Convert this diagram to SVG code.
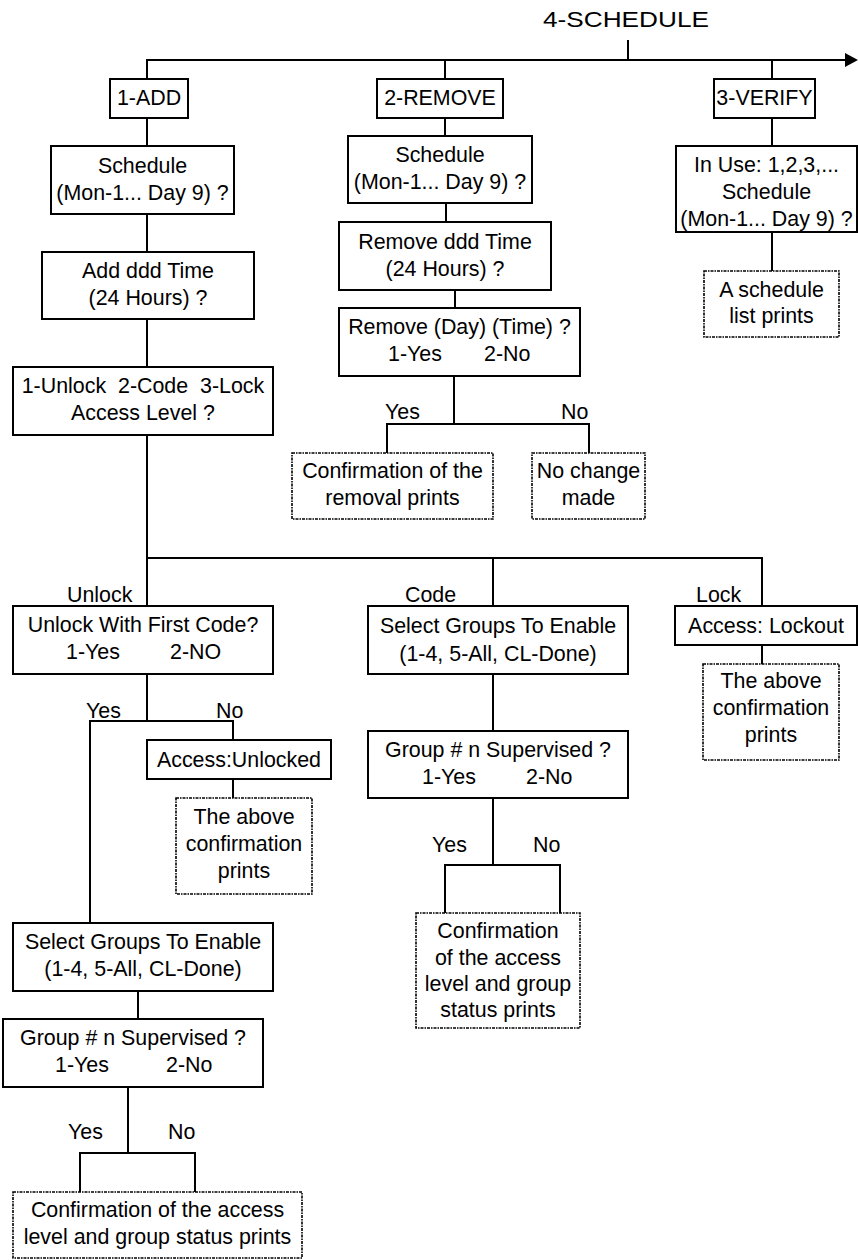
<svg xmlns="http://www.w3.org/2000/svg" width="858" height="1260" viewBox="0 0 858 1260">
<defs>
<style>
.t{font-family:"Liberation Sans",Arial,sans-serif;font-size:21.4px;fill:#000}
.c{text-anchor:middle}
.box{fill:#fff;stroke:#000;stroke-width:2}
.dbox{fill:#fff;stroke:#000;stroke-width:1.6;stroke-dasharray:3 1 1.5 1}
.ln{fill:none;stroke:#000;stroke-width:2}
</style>
<marker id="arr" markerWidth="13" markerHeight="14" refX="0" refY="7" orient="auto" markerUnits="userSpaceOnUse">
<path d="M0,0 L13,7 L0,14 Z" fill="#000"/>
</marker>
</defs>
<rect width="858" height="1260" fill="#fff"/>
<text class="t c" x="626" y="27" textLength="166" lengthAdjust="spacingAndGlyphs">4-SCHEDULE</text>
<g id="connectors">
<path class="ln" d="M147,79 V60 H845" marker-end="url(#arr)"/>
<path class="ln" d="M628,40 V60"/>
<path class="ln" d="M445,60 V79"/>
<path class="ln" d="M772,60 V79"/>
<path class="ln" d="M147,118 V146"/>
<path class="ln" d="M147,214 V252"/>
<path class="ln" d="M147,319 V367"/>
<path class="ln" d="M147,435 V606"/>
<path class="ln" d="M147,558 H762 V606"/>
<path class="ln" d="M493,558 V606"/>
<path class="ln" d="M445,118 V136"/>
<path class="ln" d="M446,203 V222"/>
<path class="ln" d="M455,290 V308"/>
<path class="ln" d="M454,376 V424"/>
<path class="ln" d="M387,453 V424 H589 V453"/>
<path class="ln" d="M772,118 V146"/>
<path class="ln" d="M772,232 V271"/>
<path class="ln" d="M147,674 V721"/>
<path class="ln" d="M90,923 V721 H233 V740"/>
<path class="ln" d="M233,779 V798"/>
<path class="ln" d="M138,991 V1019"/>
<path class="ln" d="M128,1087 V1153"/>
<path class="ln" d="M80,1192 V1153 H195 V1192"/>
<path class="ln" d="M493,674 V731"/>
<path class="ln" d="M493,798 V865"/>
<path class="ln" d="M445,913 V865 H560 V913"/>
<path class="ln" d="M762,645 V664"/>
<text class="t" x="385" y="419">Yes</text>
<text class="t" x="561" y="419">No</text>
<text class="t" x="67" y="602">Unlock</text>
<text class="t" x="405" y="602">Code</text>
<text class="t" x="696" y="602">Lock</text>
<text class="t" x="86" y="718">Yes</text>
<text class="t" x="216" y="718">No</text>
<text class="t" x="432" y="852">Yes</text>
<text class="t" x="533" y="852">No</text>
<text class="t" x="68" y="1139">Yes</text>
<text class="t" x="168" y="1139">No</text>
</g>
<g id="add_btn"><rect class="box" x="110" y="79" width="78" height="39"/><text class="t c" x="149" y="105">1-ADD</text></g>
<g id="remove_btn"><rect class="box" x="377" y="79" width="126" height="39"/><text class="t c" x="440" y="105">2-REMOVE</text></g>
<g id="verify_btn"><rect class="box" x="714" y="79" width="101" height="39"/><text class="t c" x="764.5" y="105">3-VERIFY</text></g>
<g id="add_sched"><rect class="box" x="51" y="146" width="183" height="68"/><text class="t c" x="142.5" y="173">Schedule</text><text class="t c" x="142.5" y="200">(Mon-1... Day 9) ?</text></g>
<g id="add_time"><rect class="box" x="42" y="252" width="212" height="67"/><text class="t c" x="148" y="278">Add ddd Time</text><text class="t c" x="148" y="305">(24 Hours) ?</text></g>
<g id="access_level"><rect class="box" x="13" y="367" width="260" height="68"/><text class="t c" x="143" y="393" xml:space="preserve">1-Unlock  2-Code  3-Lock</text><text class="t c" x="143" y="420">Access Level ?</text></g>
<g id="rem_sched"><rect class="box" x="348" y="136" width="184" height="67"/><text class="t c" x="440" y="162">Schedule</text><text class="t c" x="440" y="189">(Mon-1... Day 9) ?</text></g>
<g id="rem_time"><rect class="box" x="339" y="222" width="212" height="68"/><text class="t c" x="445" y="249">Remove ddd Time</text><text class="t c" x="445" y="276">(24 Hours) ?</text></g>
<g id="rem_confirm"><rect class="box" x="339" y="308" width="241" height="68"/><text class="t c" x="459.5" y="334">Remove (Day) (Time) ?</text><text class="t" y="361"><tspan x="388">1-Yes</tspan><tspan x="484">2-No</tspan></text></g>
<g id="ver_sched"><rect class="box" x="676" y="146" width="181" height="86"/><text class="t c" x="766.5" y="172">In Use: 1,2,3,...</text><text class="t c" x="766.5" y="199">Schedule</text><text class="t c" x="766.5" y="226">(Mon-1... Day 9) ?</text></g>
<g id="rem_yes_print"><rect class="dbox" x="292" y="453" width="201" height="66"/><text class="t c" x="392.5" y="478">Confirmation of the</text><text class="t c" x="392.5" y="505">removal prints</text></g>
<g id="rem_no_print"><rect class="dbox" x="532" y="453" width="113" height="66"/><text class="t c" x="588.5" y="478">No change</text><text class="t c" x="588.5" y="505">made</text></g>
<g id="ver_print"><rect class="dbox" x="704" y="271" width="135" height="66"/><text class="t c" x="771.5" y="297">A schedule</text><text class="t c" x="771.5" y="323">list prints</text></g>
<g id="unlock_q"><rect class="box" x="13" y="606" width="260" height="68"/><text class="t c" x="143" y="632">Unlock With First Code?</text><text class="t" y="659"><tspan x="66">1-Yes</tspan><tspan x="170">2-NO</tspan></text></g>
<g id="access_unlocked"><rect class="box" x="147" y="740" width="184" height="39"/><text class="t c" x="239" y="767">Access:Unlocked</text></g>
<g id="unlock_print"><rect class="dbox" x="176" y="798" width="136" height="96"/><text class="t c" x="244" y="824">The above</text><text class="t c" x="244" y="851">confirmation</text><text class="t c" x="244" y="878">prints</text></g>
<g id="add_groups"><rect class="box" x="13" y="923" width="260" height="68"/><text class="t c" x="143" y="949">Select Groups To Enable</text><text class="t c" x="143" y="976">(1-4, 5-All, CL-Done)</text></g>
<g id="add_supervised"><rect class="box" x="3" y="1019" width="260" height="68"/><text class="t c" x="133" y="1045">Group # n Supervised ?</text><text class="t" y="1072"><tspan x="55">1-Yes</tspan><tspan x="166">2-No</tspan></text></g>
<g id="add_print"><rect class="dbox" x="13" y="1192" width="289" height="66"/><text class="t c" x="157.5" y="1217">Confirmation of the access</text><text class="t c" x="157.5" y="1244">level and group status prints</text></g>
<g id="code_groups"><rect class="box" x="368" y="606" width="260" height="68"/><text class="t c" x="498" y="633">Select Groups To Enable</text><text class="t c" x="498" y="661">(1-4, 5-All, CL-Done)</text></g>
<g id="code_supervised"><rect class="box" x="368" y="731" width="260" height="67"/><text class="t c" x="498" y="757">Group # n Supervised ?</text><text class="t" y="784"><tspan x="422">1-Yes</tspan><tspan x="526">2-No</tspan></text></g>
<g id="code_print"><rect class="dbox" x="416" y="913" width="164" height="115"/><text class="t c" x="498" y="938">Confirmation</text><text class="t c" x="498" y="965">of the access</text><text class="t c" x="498" y="991">level and group</text><text class="t c" x="498" y="1017">status prints</text></g>
<g id="lockout"><rect class="box" x="675" y="606" width="182" height="39"/><text class="t c" x="766" y="633">Access: Lockout</text></g>
<g id="lock_print"><rect class="dbox" x="703" y="664" width="136" height="96"/><text class="t c" x="771" y="688">The above</text><text class="t c" x="771" y="715">confirmation</text><text class="t c" x="771" y="742">prints</text></g>
</svg>
